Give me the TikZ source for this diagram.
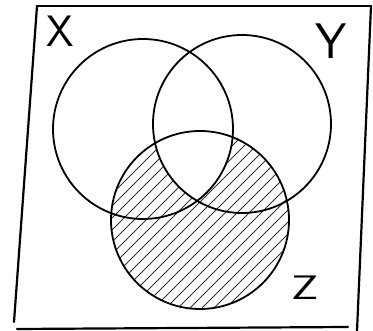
\documentclass[tikz,border=0pt]{standalone}
\begin{document}
\begin{tikzpicture}[x=1pt,y=-1pt,
  ring/.style={line width=1.8pt},
  frame/.style={line width=2.2pt,line cap=round},
  hatch/.style={line width=0.9pt,black!80},
  lbl/.style={font=\sffamily\fontsize{44}{44}\selectfont,inner sep=0pt}]
\useasboundingbox (0,0) rectangle (373,331);
\coordinate (tl) at (37,6);
\coordinate (tr) at (371,6);
\coordinate (br) at (357,331);
\coordinate (bl) at (14,322);
\coordinate (bl2) at (17,329);
\coordinate (br2) at (348,327);
\draw[frame] (tl) -- (tr);
\draw[frame] (tr) -- (br);
\draw[frame] (tl) -- (bl);
\draw[frame] (bl2) -- (br2);
% hatching of Z
\begin{scope}
  \clip (200,220) circle[radius=89pt];
  \foreach \k in {0,12,...,540} \draw[hatch] (\k-120,330) -- (\k+180,30);
\end{scope}
\begin{scope}
  \clip (143,129) circle[radius=90pt];
  \clip (242,124) circle[radius=89pt];
  \fill[white] (200,220) circle[radius=89pt];
\end{scope}
\draw[ring] (143,129) circle[radius=90pt];
\draw[ring] (242,124) circle[radius=89pt];
\draw[ring] (200,220) circle[radius=89pt];
\node[lbl] (lx) at (60,31) {X};
\node[lbl,font=\sffamily\fontsize{50}{50}\selectfont] (ly) at (331,41) {Y};
\node[lbl,font=\sffamily\fontsize{34}{34}\selectfont,xscale=1.4,transform shape] (lz) at (305,288) {Z};
\end{tikzpicture}
\end{document}
